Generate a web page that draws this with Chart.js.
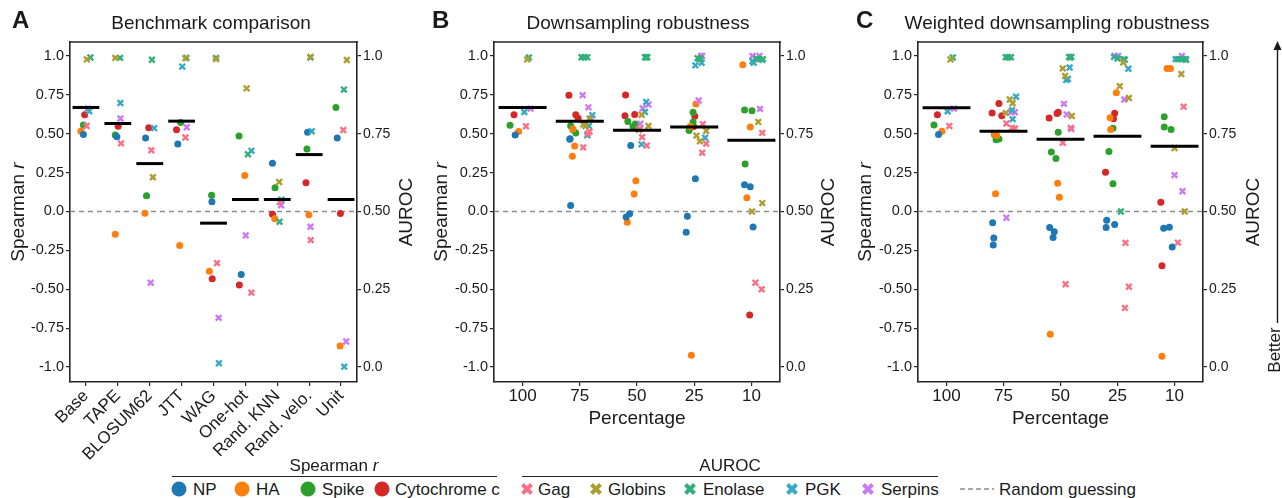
<!DOCTYPE html>
<html>
<head>
<meta charset="utf-8">
<script src="https://cdn.jsdelivr.net/npm/chart.js@4.4.1/dist/chart.umd.min.js"></script>
<style>
  body { margin: 0; background: #fff; }
  #wrap { position: relative; width: 1282px; height: 498px; overflow: hidden; background: #fff;
          font-family: 'Liberation Sans', Arial, sans-serif; color: #1a1a1a; }
  canvas { position: absolute; top: 0; }
  .letter { position: absolute; font-weight: bold; font-size: 24px; line-height: 24px; }
  .vtitle { position: absolute; font-size: 19px; white-space: nowrap;
            transform: translate(-50%, -50%) rotate(-90deg); }
  .lg { position: absolute; font-size: 17px; white-space: nowrap; line-height: 17px; }
  .hdr { position: absolute; font-size: 17px; white-space: nowrap; transform: translateX(-50%); }
  .rule { position: absolute; height: 0; border-top: 1.6px solid #262626; }
  .dot { position: absolute; width: 15px; height: 15px; border-radius: 50%; transform: translate(-50%, -50%); }
  .mk { position: absolute; transform: translate(-50%, -50%); }
</style>
</head>
<body>
<div id="wrap">
  <canvas id="cA" width="422" height="470" style="left:0px"></canvas>
  <canvas id="cB" width="420" height="440" style="left:428px"></canvas>
  <canvas id="cC" width="434" height="440" style="left:840px"></canvas>

  <div class="letter" style="left:12px;top:8px">A</div>
  <div class="letter" style="left:432px;top:8px">B</div>
  <div class="letter" style="left:856px;top:8px">C</div>

  <div class="vtitle" style="left:18px;top:212px">Spearman <i>r</i></div>
  <div class="vtitle" style="left:441px;top:212px">Spearman <i>r</i></div>
  <div class="vtitle" style="left:865px;top:212px">Spearman <i>r</i></div>
  <div class="vtitle" style="left:406px;top:212px">AUROC</div>
  <div class="vtitle" style="left:828px;top:212px">AUROC</div>
  <div class="vtitle" style="left:1253px;top:212px">AUROC</div>

  <svg style="position:absolute;left:1268px;top:36px" width="20" height="300">
    <line x1="9.5" y1="10" x2="9.5" y2="287" stroke="#1a1a1a" stroke-width="1.4"/>
    <path d="M5.5 14 L9.5 5 L13.5 14 Z" fill="#1a1a1a"/>
  </svg>
  <div class="vtitle" style="left:1275px;top:350px;font-size:17px">Better</div>

  <div id="legend"></div>
</div>

<script>
// ---- categories and ticks ----
const A_CATS = ['Base', 'TAPE', 'BLOSUM62', 'JTT', 'WAG', 'One-hot', 'Rand. KNN', 'Rand. velo.', 'Unit'];
const PCT_CATS = ['100', '75', '50', '25', '10'];
const R_TICKS = [-1, -0.75, -0.5, -0.25, 0, 0.25, 0.5, 0.75, 1];
const R_TICK_LABELS = ['-1.0', '-0.75', '-0.50', '-0.25', '0.0', '0.25', '0.50', '0.75', '1.0'];
const AUROC_TICKS = [0, 0.25, 0.5, 0.75, 1];
const AUROC_TICK_LABELS = ['0.0', '0.25', '0.50', '0.75', '1.0'];

const SPEARMAN_NAMES = ['NP', 'HA', 'Spike', 'Cytochrome c'];
const SPEARMAN_COLORS = ['#1f77b4', '#ff7f0e', '#2ca02c', '#d62728'];
const AUROC_NAMES = ['Gag', 'Globins', 'Enolase', 'PGK', 'Serpins'];
const AUROC_COLORS = ['#f77189', '#ae9d31', '#33b07a', '#38a9c5', '#cc7af4'];

// rows are [category index, value, horizontal jitter]
// ---- A: benchmark comparison ----
const A_NP = [[0,.495,-.08],[1,.480,-.03],[2,.473,-.13],[3,.434,-.12],[4,.062,-.05],[5,-.405,-.13],[6,.310,-.15],[7,.510,-.05],[8,.473,-.12]];
const A_HA = [[0,.516,-.16],[1,-.146,-.08],[2,-.011,-.15],[3,-.219,-.06],[4,-.385,-.13],[5,.232,-.02],[6,-.047,-.08],[7,-.021,-.01],[8,-.865,-.03]];
const A_SPIKE = [[0,.557,-.08],[1,.492,-.08],[2,.101,-.10],[3,.572,-.03],[4,.105,-.06],[5,.486,-.20],[6,.153,-.07],[7,.402,-.07],[8,.669,-.16]];
const A_CYTC = [[0,.622,-.04],[1,.548,.01],[2,.538,-.03],[3,.525,-.16],[4,-.433,-.04],[5,-.473,-.19],[6,-.017,-.15],[7,.185,-.10],[8,-.013,-.02]];
const A_GAG = [[0,.775,.02],[1,.719,.10],[2,.697,.05],[3,.738,.12],[4,.334,.11],[5,.239,.19],[6,.530,.08],[7,.408,.05],[8,.762,.07]];
const A_GLOBINS = [[0,.989,.03],[1,.994,-.08],[2,.610,.10],[3,.993,.12],[4,.990,.08],[5,.896,.04],[6,.595,.06],[7,.997,.04],[8,.987,.18]];
const A_ENOLASE = [[0,.995,.14],[1,.994,.07],[2,.988,.07],[3,.994,.15],[4,.994,.08],[5,.684,.08],[6,.467,.07],[7,.995,.04],[8,.892,.09]];
const A_PGK = [[0,.822,.10],[1,.849,.08],[2,.768,.14],[3,.966,.02],[4,.012,.17],[5,.695,.19],[6,.538,.13],[7,.758,.08],[8,.001,.10]];
const A_SERPINS = [[0,.831,.06],[1,.799,.08],[2,.271,.03],[3,.771,.16],[4,.158,.16],[5,.423,.01],[6,.520,.12],[7,.451,.04],[8,.082,.16]];
const A_MEAN = [.669, .566, .308, .581, -.075, .077, .077, .366, .077];

// ---- B: downsampling robustness ----
const B_NP = [[0,.492,-.13],[1,.468,-.17],[1,.039,-.16],[1,.465,-.175],[2,.425,-.11],[2,-.015,-.13],[2,-.036,-.19],[3,.21,.02],[3,-.03,-.12],[3,-.133,-.14],[4,.172,-.12],[4,.159,-.02],[4,-.099,.03]];
const B_HA = [[0,.514,-.07],[1,.421,-.09],[1,.356,-.13],[1,.53,-.12],[2,.197,-.02],[2,.112,-.05],[2,-.069,-.17],[3,.691,.03],[3,.547,-.07],[3,-.925,-.05],[4,.944,-.15],[4,.543,-.02],[4,.088,-.08]];
const B_SPIKE = [[0,.555,-.22],[1,.551,-.16],[1,.526,-.12],[1,.504,-.07],[2,.579,-.16],[2,.547,-.07],[2,.562,-.03],[3,.639,-.02],[3,.575,-.02],[3,.521,-.09],[4,.652,-.12],[4,.648,.01],[4,.305,-.11]];
const B_CYTC = [[0,.622,-.15],[1,.747,-.19],[1,.622,-.07],[1,.599,-.03],[2,.749,-.20],[2,.616,-.21],[2,.624,-.04],[3,.612,.01],[3,.547,-.01],[3,.55,-.04],[4,-.666,-.03]];
const B_GAG = [[0,.774,.06],[1,.757,.17],[1,.706,.06],[1,.75,.14],[2,.739,.09],[2,.712,.17],[2,.765,.05],[3,.781,.15],[3,.718,.21],[3,.689,.14],[4,.753,.19],[4,.271,.07],[4,.25,.18]];
const B_GLOBINS = [[0,.989,.08],[1,.798,.17],[1,.78,.06],[1,.775,.10],[2,.811,.08],[2,.775,.20],[2,.763,.03],[3,.759,.21],[3,.744,.04],[3,.726,.10],[4,.788,.12],[4,.527,.19],[4,.50,.01]];
const B_ENOLASE = [[0,.995,.11],[1,.996,.03],[1,.996,.08],[1,.996,.13],[2,.996,.14],[2,.996,.18],[2,.996,.16],[3,.993,.06],[3,.991,.11],[3,.99,.09],[4,.99,.14],[4,.99,.20],[4,.992,.09]];
const B_PGK = [[0,.820,.03],[1,.81,.22],[1,.775,.16],[1,.745,.13],[2,.852,.16],[2,.82,.14],[2,.716,.08],[3,.97,.02],[3,.978,.13],[3,.737,.19],[4,.978,.04],[4,.983,.02],[4,.988,.19]];
const B_SERPINS = [[0,.831,.14],[1,.874,.05],[1,.835,.15],[1,.80,.20],[2,.832,.10],[2,.844,.20],[2,.782,.06],[3,1.0,.12],[3,1.0,.14],[3,.857,.08],[4,1.0,.02],[4,1.0,.14],[4,.83,.15]];
const B_MEAN = [.669, .581, .523, .544, .458];

// ---- C: weighted downsampling robustness ----
const C_NP = [[0,.495,-.14],[1,-.073,-.19],[1,-.171,-.17],[1,-.216,-.18],[2,-.103,-.19],[2,-.131,-.11],[2,-.167,-.13],[3,-.056,-.19],[3,-.103,-.20],[3,-.084,-.05],[4,-.107,-.19],[4,-.101,-.09],[4,-.229,-.04]];
const C_HA = [[0,.516,-.08],[1,.501,-.16],[1,.114,-.14],[1,.489,-.12],[2,.181,-.05],[2,.092,-.02],[2,-.79,-.18],[3,.764,-.02],[3,.603,-.13],[3,.528,-.12],[4,.92,-.13],[4,.92,-.07],[4,-.931,-.22]];
const C_SPIKE = [[0,.557,-.22],[1,.495,-.16],[1,.462,-.13],[1,.467,-.08],[2,.51,-.04],[2,.383,-.16],[2,.34,-.08],[3,.536,-.08],[3,.386,-.15],[3,.178,-.08],[4,.609,-.18],[4,.544,-.18],[4,.527,-.06]];
const C_CYTC = [[0,.622,-.16],[1,.695,-.08],[1,.634,-.20],[1,.615,-.03],[2,.602,-.20],[2,.639,-.04],[2,.63,-.06],[3,.631,-.05],[3,.597,-.07],[3,.253,-.21],[4,.06,-.24],[4,-.349,-.22]];
const C_GAG = [[0,.775,.05],[1,.783,.05],[1,.769,.15],[1,.767,.20],[2,.769,.18],[2,.721,.04],[2,.266,.09],[3,.399,.14],[3,.258,.20],[3,.19,.13],[4,.837,.16],[4,.40,.06]];
const C_GLOBINS = [[0,.989,.07],[1,.86,.11],[1,.848,.16],[1,.817,.04],[2,.96,.04],[2,.936,.08],[2,.807,.20],[3,.979,.10],[3,.903,.04],[3,.865,.20],[4,.942,.12],[4,.704,.0],[4,.5,.18]];
const C_ENOLASE = [[0,.995,.11],[1,.996,.04],[1,.996,.08],[1,.996,.13],[2,.997,.15],[2,.997,.19],[2,.995,.17],[3,.99,.11],[3,.992,.0],[3,.5,.06],[4,.99,.06],[4,.99,.12],[4,.988,.2]];
const C_PGK = [[0,.822,.02],[1,.869,.22],[1,.826,.15],[1,.797,.16],[2,.963,.16],[2,.923,.10],[2,.926,.13],[3,.997,-.06],[3,.988,.13],[3,.959,.19],[4,.99,.02],[4,.99,.16],[4,.99,.2]];
const C_SERPINS = [[0,.831,.13],[1,.819,.13],[1,.819,.2],[1,.48,.05],[2,.846,.06],[2,.812,.11],[2,.765,.19],[3,1.0,-.05],[3,1.0,.01],[3,.86,.12],[4,1.0,.13],[4,.617,.0],[4,.565,.14]];
const C_MEAN = [.667, .516, .465, .484, .419];

const FONT = "'Liberation Sans', Arial, sans-serif";
const INK = '#1a1a1a';
const FRAME = '#262626';
const R_MIN = -1.0965, R_MAX = 1.09;

const frameTop = {
  id: 'frameTop',
  afterDraw(chart) {
    const { ctx, chartArea: a } = chart;
    ctx.save();
    ctx.strokeStyle = FRAME;
    ctx.lineWidth = 1.6;
    ctx.beginPath();
    ctx.moveTo(a.left - 0.8, a.top);
    ctx.lineTo(a.right + 0.8, a.top);
    ctx.stroke();
    ctx.restore();
  }
};

function pts(rows) {
  return rows.map(([c, v, dx]) => ({ x: c + dx, y: v }));
}

function makePanel(id, title, cats, spearman, auroc, means, opt) {
  const n = cats.length;
  const datasets = [];

  // random guessing line
  datasets.push({
    type: 'line', data: [{ x: -0.5, y: 0 }, { x: n - 0.5, y: 0 }],
    borderColor: '#8c8c8c', borderDash: [5, 4], borderWidth: 1.3,
    pointRadius: 0, yAxisID: 'y', order: 20
  });

  spearman.forEach((rows, i) => datasets.push({
    label: SPEARMAN_NAMES[i], data: pts(rows), yAxisID: 'y',
    pointStyle: 'circle', pointRadius: 3.5, borderWidth: 0,
    backgroundColor: SPEARMAN_COLORS[i], borderColor: SPEARMAN_COLORS[i], order: 6
  }));

  auroc.forEach((rows, i) => datasets.push({
    label: AUROC_NAMES[i], data: pts(rows), yAxisID: 'y2',
    pointStyle: 'crossRot', pointRadius: 4, borderWidth: 2.4,
    backgroundColor: AUROC_COLORS[i], borderColor: AUROC_COLORS[i], order: 5
  }));

  // mean bars
  means.forEach((m, i) => datasets.push({
    type: 'line', data: [{ x: i - 0.42, y: m }, { x: i + 0.42, y: m }],
    borderColor: '#000', borderWidth: 3, pointRadius: 0, yAxisID: 'y', order: 0
  }));

  const tickGrid = { drawOnChartArea: false, tickLength: 4, color: FRAME, lineWidth: 1.2 };
  const border = { display: true, color: FRAME, width: 1.6 };

  new Chart(document.getElementById(id), {
    type: 'scatter',
    data: { datasets },
    plugins: [frameTop],
    options: {
      responsive: false,
      animation: false,
      events: [],
      layout: { padding: 0 },
      plugins: {
        legend: { display: false },
        tooltip: { enabled: false },
        title: {
          display: true, text: title, color: INK,
          font: { family: FONT, size: 19, weight: 'normal' },
          padding: { top: 12, bottom: 7.2 }
        }
      },
      scales: {
        x: {
          type: 'linear', min: -0.5, max: n - 0.5,
          afterBuildTicks: s => { s.ticks = cats.map((c, i) => ({ value: i })); },
          afterFit: s => { s.height = opt.xHeight; },
          ticks: {
            autoSkip: false, maxRotation: opt.rotate, minRotation: opt.rotate,
            padding: 0, color: INK, font: { family: FONT, size: 17 },
            callback: (v, i) => cats[i]
          },
          grid: tickGrid, border,
          title: {
            display: !opt.rotate, text: 'Percentage', color: INK,
            font: { family: FONT, size: 19 }, padding: { top: 0, bottom: 9.6 }
          }
        },
        y: {
          type: 'linear', position: 'left', min: R_MIN, max: R_MAX,
          afterBuildTicks: s => { s.ticks = R_TICKS.map(v => ({ value: v })); },
          afterFit: s => { s.width = opt.leftW; },
          ticks: { padding: 2, color: INK, font: { family: FONT, size: 14.5 },
                   callback: (v, i) => R_TICK_LABELS[i] },
          grid: tickGrid, border
        },
        y2: {
          type: 'linear', position: 'right', min: (R_MIN + 1) / 2, max: (R_MAX + 1) / 2,
          afterBuildTicks: s => { s.ticks = AUROC_TICKS.map(v => ({ value: v })); },
          afterFit: s => { s.width = opt.rightW; },
          ticks: { padding: 2, color: INK, font: { family: FONT, size: 14 },
                   callback: (v, i) => AUROC_TICK_LABELS[i] },
          grid: tickGrid, border
        }
      }
    }
  });
}

makePanel('cA', 'Benchmark comparison', A_CATS,
  [A_NP, A_HA, A_SPIKE, A_CYTC], [A_GAG, A_GLOBINS, A_ENOLASE, A_PGK, A_SERPINS], A_MEAN,
  { rotate: 45, xHeight: 88, leftW: 70, rightW: 65 });
makePanel('cB', 'Downsampling robustness', PCT_CATS,
  [B_NP, B_HA, B_SPIKE, B_CYTC], [B_GAG, B_GLOBINS, B_ENOLASE, B_PGK, B_SERPINS], B_MEAN,
  { rotate: 0, xHeight: 58, leftW: 66, rightW: 68 });
makePanel('cC', 'Weighted downsampling robustness', PCT_CATS,
  [C_NP, C_HA, C_SPIKE, C_CYTC], [C_GAG, C_GLOBINS, C_ENOLASE, C_PGK, C_SERPINS], C_MEAN,
  { rotate: 0, xHeight: 58, leftW: 78, rightW: 71 });

// ---- grouped legend ----
const LEG_Y = 489;
const SP_DOT_X = [179, 242, 308, 382];
const SP_TEXT_X = [193, 256, 322, 395];
const AU_MARK_X = [527, 596, 690, 792, 868];
const AU_TEXT_X = [538, 608, 703, 805, 881];

let html = '';
html += `<div class="hdr" style="left:334px;top:456px">Spearman <i>r</i></div>`;
html += `<div class="rule" style="left:172px;width:325px;top:476px"></div>`;
html += `<div class="hdr" style="left:730px;top:456px">AUROC</div>`;
html += `<div class="rule" style="left:522px;width:416px;top:476px"></div>`;
SPEARMAN_NAMES.forEach((name, i) => {
  html += `<div class="dot" style="left:${SP_DOT_X[i]}px;top:${LEG_Y}px;background:${SPEARMAN_COLORS[i]}"></div>`;
  html += `<div class="lg" style="left:${SP_TEXT_X[i]}px;top:${LEG_Y - 8}px">${name}</div>`;
});
AUROC_NAMES.forEach((name, i) => {
  html += `<svg class="mk" style="left:${AU_MARK_X[i]}px;top:${LEG_Y}px" width="14" height="14" viewBox="0 0 14 14">` +
          `<path d="M2.5 2.5L11.5 11.5M11.5 2.5L2.5 11.5" stroke="${AUROC_COLORS[i]}" stroke-width="4"/></svg>`;
  html += `<div class="lg" style="left:${AU_TEXT_X[i]}px;top:${LEG_Y - 8}px">${name}</div>`;
});
html += `<svg class="mk" style="left:977px;top:${LEG_Y}px" width="34" height="6">` +
        `<line x1="0" y1="3" x2="34" y2="3" stroke="#8c8c8c" stroke-width="1.5" stroke-dasharray="5,3"/></svg>`;
html += `<div class="lg" style="left:999px;top:${LEG_Y - 8}px">Random guessing</div>`;
document.getElementById('legend').innerHTML = html;
</script>
</body>
</html>
